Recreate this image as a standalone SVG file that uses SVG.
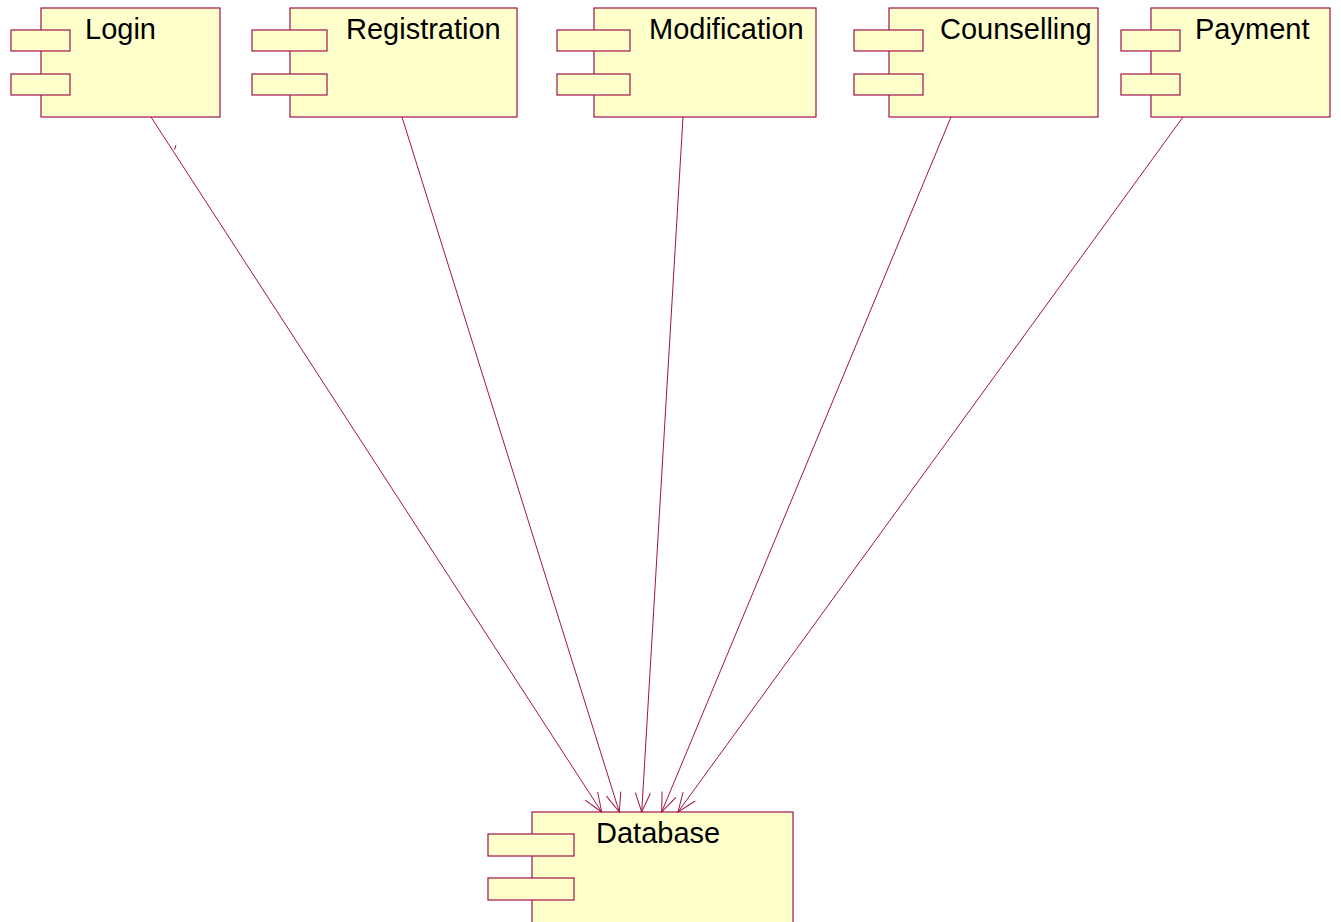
<svg xmlns="http://www.w3.org/2000/svg" width="1341" height="922" viewBox="0 0 1341 922">
<style>
.body{fill:#FFFFCC;stroke:#A0134A;stroke-width:1.2}
.tab{fill:#FFFFCC;stroke:#A0134A;stroke-width:1.2}
.lbl{font-family:"Liberation Sans",Arial,sans-serif;font-size:29px;fill:#000}
.edge{stroke:#A0134A;stroke-width:1;fill:none}
</style>
<defs>
<marker id="arr" viewBox="-22 -10 24 20" refX="0" refY="0" markerWidth="24" markerHeight="20" markerUnits="userSpaceOnUse" orient="auto">
<path d="M-19,-7.5 L0,0 L-19,7.5" fill="none" stroke="#A0134A" stroke-width="1"/>
</marker>
</defs>
<rect width="1341" height="922" fill="#fff"/>
<g id="Login">
<rect class="body" x="41" y="8" width="179" height="109"/>
<rect class="tab" x="11" y="30" width="59" height="21"/>
<rect class="tab" x="11" y="74" width="59" height="21"/>
<text class="lbl" x="85" y="38.5">Login</text>
</g>
<g id="Registration">
<rect class="body" x="290" y="8" width="227" height="109"/>
<rect class="tab" x="252" y="30" width="75" height="21"/>
<rect class="tab" x="252" y="74" width="75" height="21"/>
<text class="lbl" x="346" y="38.5">Registration</text>
</g>
<g id="Modification">
<rect class="body" x="594" y="8" width="222" height="109"/>
<rect class="tab" x="557" y="30" width="73" height="21"/>
<rect class="tab" x="557" y="74" width="73" height="21"/>
<text class="lbl" x="649" y="38.5">Modification</text>
</g>
<g id="Counselling">
<rect class="body" x="889" y="8" width="209" height="109"/>
<rect class="tab" x="854" y="30" width="69" height="21"/>
<rect class="tab" x="854" y="74" width="69" height="21"/>
<text class="lbl" x="940" y="38.5">Counselling</text>
</g>
<g id="Payment">
<rect class="body" x="1151" y="8" width="179" height="109"/>
<rect class="tab" x="1121" y="30" width="59" height="21"/>
<rect class="tab" x="1121" y="74" width="59" height="21"/>
<text class="lbl" x="1195" y="38.5">Payment</text>
</g>
<g id="Database">
<rect class="body" x="532" y="812" width="261" height="112"/>
<rect class="tab" x="488" y="834" width="86" height="22"/>
<rect class="tab" x="488" y="878" width="86" height="22"/>
<text class="lbl" x="596" y="842.5">Database</text>
</g>
<g id="connectors">
<line class="edge" x1="151" y1="117" x2="601.7" y2="812" marker-end="url(#arr)"/>
<line class="edge" x1="402" y1="117" x2="619.3" y2="812" marker-end="url(#arr)"/>
<line class="edge" x1="683" y1="117" x2="641.7" y2="812" marker-end="url(#arr)"/>
<line class="edge" x1="951" y1="117" x2="661.7" y2="812" marker-end="url(#arr)"/>
<line class="edge" x1="1183" y1="117" x2="678" y2="812" marker-end="url(#arr)"/>
<line class="edge" x1="176" y1="145" x2="174.5" y2="149.5"/>
</g>
</svg>
